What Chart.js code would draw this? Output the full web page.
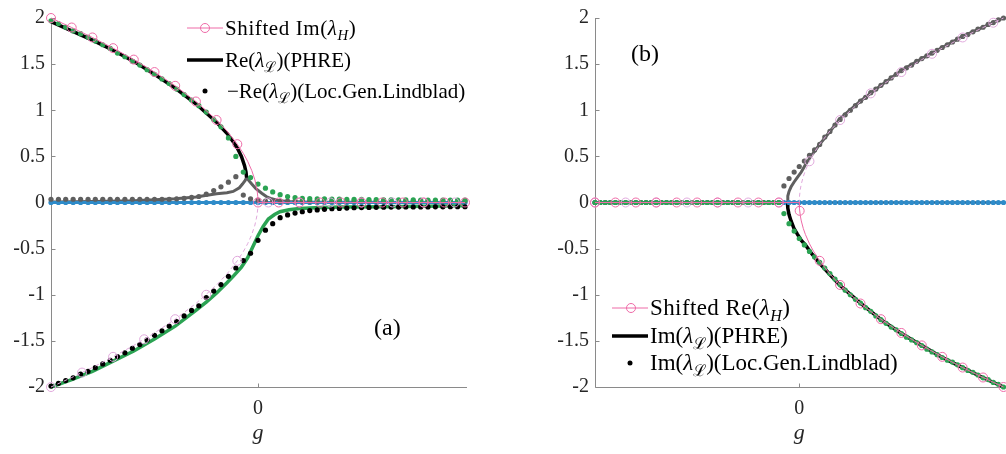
<!DOCTYPE html>
<html>
<head>
<meta charset="utf-8">
<script src="https://cdn.jsdelivr.net/npm/chart.js@4.4.0/dist/chart.umd.min.js"></script>
<style>
  html, body { margin:0; padding:0; background:#fff; }
  body { width:1006px; height:454px; overflow:hidden; position:relative; font-family:"Liberation Serif", "DejaVu Serif", serif; color:#000; }
  canvas { position:absolute; top:0; }
  #cA { left:0; }
  #cB { left:544px; }
  .row { position:absolute; height:24px; display:flex; align-items:center; font-size:21px; white-space:nowrap; }
  .rowb { font-size:23px; }
  .row svg { flex:none; }
  .row span { margin-left:2px; }
  sub { font-size:0.7em; vertical-align:-0.35em; line-height:0; }
  .lab { position:absolute; font-size:24px; line-height:24px; }
</style>
</head>
<body>
<canvas id="cA" width="480" height="454"></canvas>
<canvas id="cB" width="465" height="454"></canvas>

<!-- legend (a) -->
<div class="row" style="left:187px; top:16px;">
  <svg width="36" height="24"><line x1="0" y1="12" x2="36" y2="12" stroke="#ee6aa7" stroke-width="1"/><circle cx="18" cy="12" r="4.5" fill="none" stroke="#ee6aa7" stroke-width="1"/></svg>
  <span style="letter-spacing:0.6px">Shifted Im(<i>λ</i><sub><i>H</i></sub>)</span>
</div>
<div class="row" style="left:187px; top:48px;">
  <svg width="36" height="24"><line x1="0" y1="12" x2="36" y2="12" stroke="#000" stroke-width="3.5"/></svg>
  <span>Re(<i>λ</i><sub>ℒ</sub>)(PHRE)</span>
</div>
<div class="row" style="left:187px; top:79px;">
  <svg width="36" height="24"><circle cx="18" cy="12" r="2.5" fill="#000"/></svg>
  <span style="margin-left:4px">−Re(<i>λ</i><sub>ℒ</sub>)(Loc.Gen.Lindblad)</span>
</div>
<div class="lab" style="left:374px; top:315px;">(a)</div>

<!-- legend (b) -->
<div class="row rowb" style="left:612px; top:296px;">
  <svg width="36" height="24"><line x1="0" y1="12" x2="36" y2="12" stroke="#ee6aa7" stroke-width="1"/><circle cx="19" cy="12" r="4.5" fill="none" stroke="#ee6aa7" stroke-width="1"/></svg>
  <span style="letter-spacing:0.4px">Shifted Re(<i>λ</i><sub><i>H</i></sub>)</span>
</div>
<div class="row rowb" style="left:612px; top:324px;">
  <svg width="36" height="24"><line x1="0" y1="12" x2="36" y2="12" stroke="#000" stroke-width="3.5"/></svg>
  <span>Im(<i>λ</i><sub>ℒ</sub>)(PHRE)</span>
</div>
<div class="row rowb" style="left:612px; top:351px;">
  <svg width="36" height="24"><circle cx="18" cy="12" r="2.5" fill="#000"/></svg>
  <span>Im(<i>λ</i><sub>ℒ</sub>)(Loc.Gen.Lindblad)</span>
</div>
<div class="lab" style="left:631px; top:41px;">(b)</div>

<script>
// ---------- tick labels ----------
const yTickValues = [-2, -1.5, -1, -0.5, 0, 0.5, 1, 1.5, 2];
const yTickLabels = ["-2", "-1.5", "-1", "-0.5", "0", "0.5", "1", "1.5", "2"];
const xTickValues = [0];
const xTickLabels = ["0"];

// ---------- panel (a) ----------
const gA = [-1,-0.964,-0.929,-0.893,-0.857,-0.821,-0.786,-0.75,-0.714,-0.679,-0.643,-0.607,-0.571,-0.536,-0.5,-0.464,-0.429,-0.393,-0.357,-0.321,-0.286,-0.25,-0.214,-0.179,-0.143,-0.107,-0.071,-0.036,0,
  0.036,0.071,0.107,0.143,0.179,0.214,0.25,0.286,0.321,0.357,0.393,0.429,0.464,0.5,0.536,0.571,0.607,0.643,0.679,0.714,0.75,0.786,0.821,0.857,0.893,0.929,0.964,1];

const greenDotsA = [1.97,1.94,1.90,1.86,1.83,1.79,1.75,1.71,1.67,1.62,1.58,1.53,1.49,1.44,1.39,1.34,1.29,1.23,1.17,1.11,1.05,0.98,0.90,0.82,0.70,
  0.50,0.33,0.27,0.20,0.155,0.115,0.085,0.065,0.052,0.045,0.042,0.04,
  0.04,0.038,0.036,0.035,0.034,0.033,0.032,0.031,0.03,0.03,0.029,0.028,0.028,0.027,0.027,0.026,0.026,0.025,0.025,0.025];

const grayDotsA = [0.035,0.035,0.035,0.035,0.035,0.035,0.035,0.035,0.035,0.035,0.035,0.035,0.035,0.035,0.035,0.035,0.035,
  0.04,0.045,0.055,0.065,0.09,0.13,0.17,0.22,0.28,0.08,0.04,0.025,
  0.015,0.015,0.015,0.015,0.015,0.015,0.015,0.015,0.015,0.015,0.015,0.015,0.015,0.015,0.015,0.015,0.015,0.015,0.015,0.015,0.015,0.015,0.015,0.015,0.015,0.015,0.015,0.015];

const blackDotsA = [-1.99,-1.96,-1.93,-1.90,-1.86,-1.83,-1.79,-1.75,-1.71,-1.67,
  -1.63,-1.58,-1.54,-1.49,-1.44,-1.39,-1.34,-1.29,-1.23,-1.17,
  -1.12,-1.03,-0.96,-0.89,-0.80,-0.71,-0.63,-0.55,-0.41,-0.30,
  -0.23,-0.165,-0.135,-0.115,-0.10,-0.088,-0.08,-0.074,-0.068,-0.064,
  -0.06,-0.057,-0.055,
  -0.053,-0.052,-0.051,-0.05,-0.05,-0.049,-0.049,-0.048,-0.048,-0.047,-0.047,-0.046,-0.046,-0.046];

const blueA = [0,0,0,0,0,0,0,0,0,0,0,0,0,0,0,0,0,0,0,0,0,0,0,0,0,0,0,0,0,0,0,0,0,0,0,0,0,0,0,0,0,0,0,0,0,0,0,0,0,0,0,0,0,0,0,0,0];

const gBlackLineA = [-1,-0.9,-0.8,-0.7,-0.6,-0.5,-0.4,-0.3,-0.2,-0.15,-0.12,-0.1,-0.08,-0.065,-0.058,-0.055];
const blackLineA  = [1.96,1.86,1.76,1.65,1.53,1.39,1.24,1.07,0.87,0.75,0.66,0.59,0.50,0.40,0.33,0.27];

const gGrayLineA = [-1,-0.8,-0.6,-0.5,-0.4,-0.3,-0.2,-0.15,-0.12,-0.09,-0.075,-0.062,-0.055,-0.045,-0.03,-0.01,0.018,0.04,0.066,0.1,0.15,0.25,0.4,1];
const grayLineA  = [0.005,0.01,0.02,0.03,0.04,0.06,0.095,0.105,0.12,0.16,0.20,0.24,0.27,0.24,0.20,0.15,0.10,0.065,0.04,0.02,0.01,0.004,0.002,0];

const gGreenLineA = [-1,-0.9,-0.8,-0.7,-0.6,-0.5,-0.4,-0.3,-0.25,-0.2,-0.15,-0.12,-0.08,-0.05,-0.025,0,0.025,0.05,0.08,0.106,0.15,0.2,0.3,0.4,0.6,0.8,1];
const greenLineA  = [-2.0,-1.92,-1.83,-1.72,-1.61,-1.48,-1.34,-1.17,-1.08,-0.98,-0.87,-0.80,-0.70,-0.60,-0.48,-0.36,-0.26,-0.18,-0.13,-0.10,-0.078,-0.065,-0.055,-0.05,-0.045,-0.04,-0.035];

const gPinkLineA = [-1,-0.9,-0.8,-0.7,-0.6,-0.5,-0.4,-0.3,-0.2,-0.15,-0.1,-0.07,-0.05,-0.03,-0.015,-0.005,-0.001,0,1];
const pinkLineA  = [2,1.897,1.789,1.673,1.549,1.414,1.265,1.095,0.894,0.775,0.632,0.529,0.447,0.346,0.245,0.141,0.063,0,0];
const gPinkCircA = [-1,-0.9,-0.8,-0.7,-0.6,-0.5,-0.4,-0.3,-0.2,-0.1,0,0.1,0.2,0.3,0.4,0.5,0.6,0.7,0.8,0.9,1];
const pinkCircA  = [2,1.897,1.789,1.673,1.549,1.414,1.265,1.095,0.894,0.632,0,0,0,0,0,0,0,0,0,0,0];

const gLightLineA = [-1,-0.9,-0.8,-0.7,-0.6,-0.5,-0.4,-0.3,-0.2,-0.15,-0.1,-0.07,-0.05,-0.03,-0.015,-0.005,-0.001,0,1];
const lightLineA  = [-2,-1.897,-1.789,-1.673,-1.549,-1.414,-1.265,-1.095,-0.894,-0.775,-0.632,-0.529,-0.447,-0.346,-0.245,-0.141,-0.063,0,0];
const gLightCircA = [-1,-0.85,-0.7,-0.55,-0.4,-0.25,-0.1,0.05,0.2,0.35,0.5,0.65,0.8,0.95];
const lightCircA  = [-2,-1.844,-1.673,-1.483,-1.265,-1,-0.632,0,0,0,0,0,0,0];

// ---------- panel (b) ----------
const gB = [-1,-0.975,-0.95,-0.925,-0.9,-0.875,-0.85,-0.825,-0.8,-0.775,-0.75,-0.725,-0.7,-0.675,-0.65,-0.625,-0.6,-0.575,-0.55,-0.525,
  -0.5,-0.475,-0.45,-0.425,-0.4,-0.375,-0.35,-0.325,-0.3,-0.275,-0.25,-0.225,-0.2,-0.175,-0.15,-0.125,-0.1,-0.075,-0.05,-0.025,0,
  0.025,0.05,0.075,0.1,0.125,0.15,0.175,0.2,0.225,0.25,0.275,0.3,0.325,0.35,0.375,0.4,0.425,0.45,0.475,0.5,
  0.525,0.55,0.575,0.6,0.625,0.65,0.675,0.7,0.725,0.75,0.775,0.8,0.825,0.85,0.875,0.9,0.925,0.95,0.975,1];

const greenDotsB = [0,0,0,0,0,0,0,0,0,0,0,0,0,0,0,0,0,0,0,0,0,0,0,0,0,0,0,0,0,0,0,0,0,0,0,0,0,
  -0.12,-0.23,-0.31,-0.39,-0.46,-0.53,-0.59,-0.65,-0.71,-0.77,-0.83,-0.89,-0.95,-1.0,-1.05,-1.09,-1.14,-1.18,-1.23,-1.27,
  -1.31,-1.35,-1.38,-1.42,-1.46,-1.49,-1.52,-1.55,-1.59,-1.62,-1.65,-1.68,-1.71,-1.73,-1.76,-1.79,-1.82,-1.84,-1.87,-1.9,-1.92,-1.95,-1.97,-2.0];

const grayDotsB = [0,0,0,0,0,0,0,0,0,0,0,0,0,0,0,0,0,0,0,0,0,0,0,0,0,0,0,0,0,0,0,0,0,0,0,0,0,
  0.18,0.26,0.33,0.39,0.45,0.51,0.57,0.63,
  0.71,0.77,0.84,0.9,0.95,1.0,1.05,1.1,1.14,1.19,1.23,1.27,1.31,1.35,1.39,1.43,1.46,1.49,1.53,1.56,1.59,1.62,1.65,1.68,1.71,1.74,1.77,1.8,1.82,1.85,1.88,1.9,1.93,1.95,1.98,2.0];

const blueB = [0,0,0,0,0,0,0,0,0,0,0,0,0,0,0,0,0,0,0,0,0,0,0,0,0,0,0,0,0,0,0,0,0,0,0,0,0,0,0,0,0,0,0,0,0,0,0,0,0,0,0,0,0,0,0,0,0,0,0,0,0,0,0,0,0,0,0,0,0,0,0,0,0,0,0,0,0,0,0,0,0];

const gGrayLineB = [-1,-0.058,-0.056,-0.05,-0.04,-0.026,-0.01,0.01,0.03,0.063,0.1,0.15,0.2,0.3,0.4,0.5,0.6,0.7,0.8,0.9,1];
const grayLineB  = [0,0,0.07,0.12,0.17,0.22,0.27,0.33,0.41,0.52,0.63,0.77,0.91,1.1,1.27,1.43,1.56,1.68,1.8,1.9,2.0];

const gBlackLineB = [-0.058,-0.056,-0.05,-0.04,-0.026,-0.01,0.01,0.03,0.063,0.1,0.15,0.2,0.3,0.4,0.5,0.6,0.7,0.8,0.9,1];
const blackLineB  = [0,-0.06,-0.13,-0.2,-0.28,-0.34,-0.41,-0.46,-0.56,-0.66,-0.78,-0.9,-1.09,-1.27,-1.42,-1.55,-1.68,-1.79,-1.9,-2.0];
const gBlackZeroB = [-0.058,1];
const blackZeroB  = [0,0];

const gPinkLineB = [-1,0,0.001,0.005,0.01,0.02,0.03,0.05,0.07,0.1,0.15,0.2,0.3,0.4,0.5,0.6,0.7,0.8,0.9,1];
const pinkLineB  = [0,0,-0.063,-0.141,-0.2,-0.283,-0.346,-0.447,-0.529,-0.632,-0.775,-0.894,-1.095,-1.265,-1.414,-1.549,-1.673,-1.789,-1.897,-2.0];
const gPinkCircB = [-1,-0.9,-0.8,-0.7,-0.6,-0.5,-0.4,-0.3,-0.2,-0.1,0.002,0.1,0.2,0.3,0.4,0.5,0.6,0.7,0.8,0.9,1];
const pinkCircB  = [0,0,0,0,0,0,0,0,0,0,-0.09,-0.632,-0.894,-1.095,-1.265,-1.414,-1.549,-1.673,-1.789,-1.897,-2.0];

const gLightLineB = [-1,0,0.001,0.005,0.01,0.02,0.03,0.05,0.07,0.1,0.15,0.2,0.3,0.4,0.5,0.6,0.7,0.8,0.9,1];
const lightLineB  = [0,0,0.063,0.141,0.2,0.283,0.346,0.447,0.529,0.632,0.775,0.894,1.095,1.265,1.414,1.549,1.673,1.789,1.897,2.0];
const gLightCircB = [-1,-0.85,-0.7,-0.55,-0.4,-0.25,-0.1,0.05,0.2,0.35,0.5,0.65,0.8,0.95];
const lightCircB  = [0,0,0,0,0,0,0,0.447,0.894,1.183,1.414,1.612,1.789,1.949];

// ---------- styling ----------
const FONT = '"Liberation Serif", "DejaVu Serif", serif';
const C = { pink:'#ee6aa7', light:'#e0a8dc', black:'#000000', gray:'#5f5f5f', green:'#2ba353', blue:'#2e8bc9' };

const pts = (xs, ys) => xs.map((x, i) => ({x, y: ys[i]}));
const line = (xs, ys, color, width, order, dash) => ({
  data: pts(xs, ys), showLine: true, borderColor: color, borderWidth: width, borderDash: dash || [],
  pointRadius: 0, tension: 0, order, clip: false
});
const dots = (xs, ys, color, r, order) => ({
  data: pts(xs, ys), showLine: false, pointRadius: r, pointBackgroundColor: color, pointBorderWidth: 0,
  pointBorderColor: color, order, clip: false
});
const rings = (xs, ys, color, r, order) => ({
  data: pts(xs, ys), showLine: false, pointRadius: r, pointBackgroundColor: 'rgba(0,0,0,0)', pointBorderWidth: 1,
  pointBorderColor: color, order, clip: false
});

const axesPlugin = {
  id: 'axesDraw',
  beforeDatasetsDraw(chart) {
    const {ctx, chartArea: a, scales: {x, y}} = chart;
    ctx.save();
    ctx.strokeStyle = '#8a8a8a';
    ctx.lineWidth = 1;
    ctx.beginPath();
    const lx = Math.round(a.left) + 0.5, by = Math.round(a.bottom) + 0.5;
    ctx.moveTo(lx, a.top); ctx.lineTo(lx, by); ctx.lineTo(a.right + 2, by);
    y.ticks.forEach(t => { const py = Math.round(y.getPixelForValue(t.value)) + 0.5; ctx.moveTo(lx, py); ctx.lineTo(lx + 4, py); });
    x.ticks.forEach(t => { const px = Math.round(x.getPixelForValue(t.value)) + 0.5; ctx.moveTo(px, by); ctx.lineTo(px, by - 4); });
    ctx.stroke();
    ctx.restore();
  }
};

function makeOptions(rightPad) {
  return {
    responsive: false, animation: false, devicePixelRatio: 1, events: [],
    layout: { padding: { top: 11, right: rightPad, bottom: 0, left: 0 } },
    plugins: { legend: { display: false }, tooltip: { enabled: false } },
    scales: {
      x: {
        type: 'linear', min: -1, max: 1,
        grid: { display: false, drawTicks: false }, border: { display: false },
        afterBuildTicks: s => { s.ticks = xTickValues.map(v => ({value: v})); },
        afterFit: s => { s.height = 67; },
        ticks: { autoSkip: false, maxRotation: 0, padding: 10, color: '#262626', font: { family: FONT, size: 20 },
                 callback: v => xTickLabels[xTickValues.indexOf(v)] },
        title: { display: true, text: 'g', color: '#262626', font: { family: FONT, size: 22, style: 'italic' }, padding: { top: 0, bottom: 8 } }
      },
      y: {
        type: 'linear', min: -2, max: 2,
        grid: { display: false, drawTicks: false }, border: { display: false },
        afterBuildTicks: s => { s.ticks = yTickValues.map(v => ({value: v})); },
        afterFit: s => { s.width = 51; },
        ticks: { autoSkip: false, padding: 6, color: '#262626', font: { family: FONT, size: 20 },
                 callback: v => yTickLabels[yTickValues.indexOf(v)] }
      }
    }
  };
}

new Chart(document.getElementById('cA'), {
  type: 'scatter',
  data: { datasets: [
    line(gGrayLineA, grayLineA, C.gray, 3, 20),
    line(gBlackLineA, blackLineA, C.black, 3.5, 19),
    line(gGreenLineA, greenLineA, C.green, 3.5, 18),
    line(gA, blueA, C.blue, 3, 17),
    dots(gA, blueA, C.blue, 2.6, 16),
    dots(gA, grayDotsA, C.gray, 2.6, 15),
    dots(gA, greenDotsA, C.green, 2.6, 14),
    dots(gA, blackDotsA, C.black, 2.6, 13),
    line(gLightLineA, lightLineA, C.light, 1, 12, [4, 3]),
    rings(gLightCircA, lightCircA, C.light, 4.5, 11),
    line(gPinkLineA, pinkLineA, C.pink, 1, 10),
    rings(gPinkCircA, pinkCircA, C.pink, 4.5, 9)
  ]},
  options: makeOptions(15),
  plugins: [axesPlugin]
});

new Chart(document.getElementById('cB'), {
  type: 'scatter',
  data: { datasets: [
    line(gGrayLineB, grayLineB, C.gray, 3, 20),
    line(gBlackZeroB, blackZeroB, C.black, 2, 19),
    line(gBlackLineB, blackLineB, C.black, 3.5, 18),
    dots(gB, blueB, C.blue, 2.6, 17),
    dots(gB, grayDotsB, C.gray, 2.6, 16),
    dots(gB, greenDotsB, C.green, 2.6, 15),
    line(gLightLineB, lightLineB, C.light, 1, 12, [4, 3]),
    rings(gLightCircB, lightCircB, C.light, 4.5, 11),
    line(gPinkLineB, pinkLineB, C.pink, 1, 10),
    rings(gPinkCircB, pinkCircB, C.pink, 4.5, 9)
  ]},
  options: makeOptions(0),
  plugins: [axesPlugin]
});
</script>
</body>
</html>
